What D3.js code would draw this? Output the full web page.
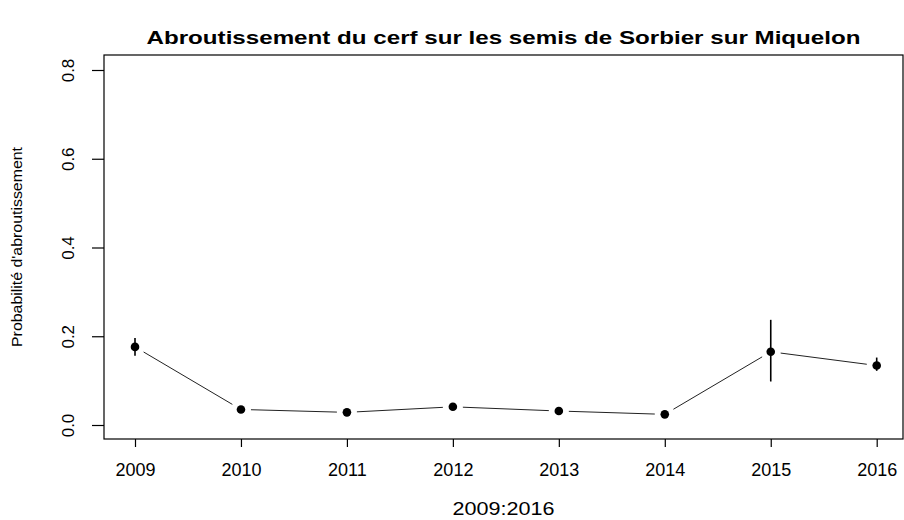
<!DOCTYPE html>
<html>
<head>
<meta charset="utf-8">
<script src="https://cdn.jsdelivr.net/npm/d3@7"></script>
<style>
  body { margin: 0; background: #fff; }
  svg { display: block; font-family: "Liberation Sans", Arial, sans-serif; }
</style>
</head>
<body>
<div id="chart"></div>
<script>
(function() {
  // data
  var years = [2009, 2010, 2011, 2012, 2013, 2014, 2015, 2016];
  var prob = [0.176, 0.035, 0.0285, 0.041, 0.0315, 0.024, 0.165, 0.134];
  var lower = [0.156, 0.031, 0.025, 0.037, 0.028, 0.021, 0.098, 0.122];
  var upper = [0.196, 0.039, 0.032, 0.045, 0.035, 0.027, 0.237, 0.152];
  var yTicks = [0, 0.2, 0.4, 0.6, 0.8];

  var width = 904;
  var height = 520;
  var box = { left: 104, right: 903, top: 55, bottom: 439 };

  var svg = d3
    .select("#chart")
    .append("svg")
    .attr("width", width)
    .attr("height", height);

  var x = d3.scaleLinear().domain([2009, 2016]).range([135, 876.7]);
  var y = d3.scaleLinear().domain([0, 0.8]).range([425, 70]);

  var data = years.map(function(yr, i) {
    return { year: yr, p: prob[i], lo: lower[i], hi: upper[i] };
  });

  // frame
  svg
    .append("rect")
    .attr("x", box.left)
    .attr("y", box.top)
    .attr("width", box.right - box.left)
    .attr("height", box.bottom - box.top)
    .attr("fill", "none")
    .attr("stroke", "#000")
    .attr("stroke-width", 1.2);

  // x axis
  var xAxis = svg
    .append("g")
    .attr("transform", "translate(0," + box.bottom + ")")
    .call(
      d3
        .axisBottom(x)
        .tickValues(years)
        .tickFormat(d3.format("d"))
        .tickSize(8)
        .tickSizeOuter(0)
    );
  xAxis.select(".domain").remove();
  xAxis.selectAll(".tick line").attr("stroke", "#000").attr("stroke-width", 1.2);
  xAxis
    .selectAll(".tick text")
    .attr("y", 37)
    .attr("dy", null)
    .attr("fill", "#000")
    .style("font-family", "Liberation Sans, Arial, sans-serif")
    .style("font-size", "18px");

  // y axis
  var yAxis = svg
    .append("g")
    .attr("transform", "translate(" + box.left + ",0)")
    .call(
      d3
        .axisLeft(y)
        .tickValues(yTicks)
        .tickFormat(d3.format(".1f"))
        .tickSize(12)
        .tickSizeOuter(0)
    );
  yAxis.select(".domain").remove();
  yAxis.selectAll(".tick line").attr("stroke", "#000").attr("stroke-width", 1.2);
  yAxis
    .selectAll(".tick text")
    .attr("x", null)
    .attr("dy", null)
    .attr("text-anchor", "middle")
    .attr("transform", "translate(-30,0) rotate(-90)")
    .attr("fill", "#000")
    .style("font-family", "Liberation Sans, Arial, sans-serif")
    .style("font-size", "17px");

  // connecting segments, type="b" style with gaps round the points
  var gap = 10;
  var segs = d3.pairs(data).map(function(pr) {
    var x0 = x(pr[0].year), y0 = y(pr[0].p);
    var x1 = x(pr[1].year), y1 = y(pr[1].p);
    var len = Math.hypot(x1 - x0, y1 - y0);
    var ux = (x1 - x0) / len, uy = (y1 - y0) / len;
    return [x0 + ux * gap, y0 + uy * gap, x1 - ux * gap, y1 - uy * gap];
  });
  svg
    .selectAll(".seg")
    .data(segs)
    .enter()
    .append("line")
    .attr("class", "seg")
    .attr("x1", function(d) { return d[0]; })
    .attr("y1", function(d) { return d[1]; })
    .attr("x2", function(d) { return d[2]; })
    .attr("y2", function(d) { return d[3]; })
    .attr("stroke", "#222")
    .attr("stroke-width", 1);

  // error bars
  svg
    .selectAll(".err")
    .data(data)
    .enter()
    .append("line")
    .attr("class", "err")
    .attr("x1", function(d) { return x(d.year); })
    .attr("x2", function(d) { return x(d.year); })
    .attr("y1", function(d) { return y(d.lo); })
    .attr("y2", function(d) { return y(d.hi); })
    .attr("stroke", "#000")
    .attr("stroke-width", 1.6);

  // points
  svg
    .selectAll(".pt")
    .data(data)
    .enter()
    .append("circle")
    .attr("class", "pt")
    .attr("cx", function(d) { return x(d.year); })
    .attr("cy", function(d) { return y(d.p); })
    .attr("r", 4.3)
    .attr("fill", "#000");

  // title and labels
  svg
    .append("text")
    .attr("x", (box.left + box.right) / 2)
    .attr("y", 44)
    .attr("text-anchor", "middle")
    .style("font-weight", "bold")
    .style("font-size", "18px")
    .attr("textLength", 714)
    .attr("lengthAdjust", "spacingAndGlyphs")
    .text("Abroutissement du cerf sur les semis de Sorbier sur Miquelon");

  svg
    .append("text")
    .attr("x", (box.left + box.right) / 2)
    .attr("y", 515)
    .attr("text-anchor", "middle")
    .style("font-size", "18px")
    .attr("textLength", 102)
    .attr("lengthAdjust", "spacingAndGlyphs")
    .text("2009:2016");

  svg
    .append("text")
    .attr("transform", "translate(22," + (box.top + box.bottom) / 2 + ") rotate(-90)")
    .attr("text-anchor", "middle")
    .style("font-size", "14px")
    .attr("textLength", 200)
    .attr("lengthAdjust", "spacingAndGlyphs")
    .text("Probabilité d'abroutissement");
})();
</script>
</body>
</html>
